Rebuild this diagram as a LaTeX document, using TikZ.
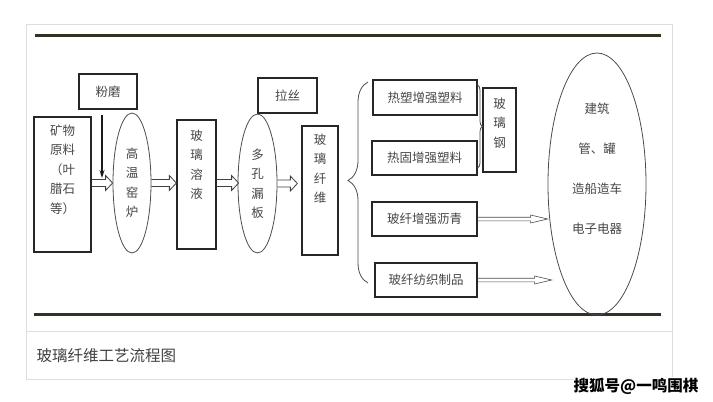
\documentclass[tikz,border=0pt]{standalone}
\usepackage{fontspec}
\setmainfont{Noto Sans CJK SC}
\usepackage{tikz}
\usetikzlibrary{arrows.meta,shapes.geometric,decorations.pathreplacing,calc}
\definecolor{rulecol}{RGB}{50,50,36}
\definecolor{ink}{RGB}{70,70,70}
\tikzstyle{stage}=[rectangle, draw=black!85, line width=1.3pt, inner sep=0pt, font=\fontsize{12.5}{19.5}\selectfont, text=ink]
\tikzstyle{ring}=[ellipse, draw=black!70, line width=0.8pt, inner sep=0pt, align=center, font=\fontsize{12.5}{19.5}\selectfont, text=ink]
\tikzstyle{vtext}=[anchor=north, inner sep=0pt, align=center, text=ink, font=\fontsize{12.5}{19.5}\selectfont]
\tikzstyle{fat}=[draw=black!75, line width=0.8pt, line join=miter,
    to path={let \p1=(\tikztostart), \p2=(\tikztotarget) in
      (\x1,\y1+3.5pt) -- (\x2-7pt,\y1+3.5pt) -- (\x2-7pt,\y1+7.5pt) -- (\x2,\y1)
      -- (\x2-7pt,\y1-7.5pt) -- (\x2-7pt,\y1-3.5pt) -- (\x1,\y1-3.5pt)}]
\tikzstyle{slim}=[draw=black!70, line width=0.6pt,
    to path={let \p1=(\tikztostart), \p2=(\tikztotarget) in
      (\x1,\y1+1.8pt) -- (\x2-17pt,\y1+1.8pt) -- (\x2-17pt,\y1+4pt) -- (\x2,\y1)
      -- (\x2-17pt,\y1-4pt) -- (\x2-17pt,\y1-1.8pt) -- (\x1,\y1-1.8pt)}]
\newcommand{\stagebox}{\node[stage]}
\newcommand{\ringnode}{\node[ring]}

\begin{document}
\begin{tikzpicture}[x=1pt, y=-1pt]
\useasboundingbox (0,0) rectangle (713,402);
% frame and rules
\draw[black!13, line width=0.8pt] (26,24) rectangle (672,379);
\draw[black!13, line width=0.8pt] (26,331) -- (672,331);
\draw[rulecol, line width=3pt] (35,35) -- (661,35);
\draw[rulecol, line width=3pt] (34,314) -- (661,314);

\stagebox (mill) at (108,91.5) [minimum width=58pt, minimum height=35pt] {粉磨};
\stagebox (ore) at (62.5,184.5) [minimum width=57pt, minimum height=135pt,
    label={[vtext, yshift=-8pt]north:矿物\\原料\\（叶\\腊石\\等）}] {};
\ringnode (kiln) at (132,183) [minimum width=38pt, minimum height=140pt] {高\\温\\窑\\炉};
\stagebox (melt) at (196.5,184.5) [minimum width=39pt, minimum height=129pt,
    label={[vtext, yshift=-10pt]north:玻\\璃\\溶\\液}] {};
\stagebox (drawing) at (287.5,95.5) [minimum width=59pt, minimum height=35pt] {拉丝};
\ringnode (bushing) at (257.5,183.5) [minimum width=39pt, minimum height=139pt] {多\\孔\\漏\\板};
\stagebox (fiber) at (320,190.5) [minimum width=36pt, minimum height=129pt,
    label={[vtext, yshift=-8pt]north:玻\\璃\\纤\\维}] {};
\stagebox (thermo) at (425,97.5) [minimum width=104pt, minimum height=35pt] {热塑增强塑料};
\stagebox (thermoset) at (424.5,158) [minimum width=105pt, minimum height=34pt] {热固增强塑料};
\stagebox (frp) at (499.5,130) [minimum width=33pt, minimum height=84pt,
    label={[vtext, yshift=-10pt]north:玻\\璃\\钢}] {};
\stagebox (asphalt) at (424.5,219) [minimum width=105pt, minimum height=34pt] {玻纤增强沥青};
\stagebox (textile) at (426,280) [minimum width=102pt, minimum height=34pt] {玻纤纺织制品};
\ringnode (uses) at (597,184) [minimum width=98pt, minimum height=262pt,
    label={[vtext, yshift=-50pt, font=\fontsize{12.5}{40}\selectfont]north:建筑\\管、罐\\造船造车\\电子电器}] {};

\coordinate (feed) at (102,178);
\draw[black!90, line width=1.2pt, shorten <=5pt, -{Stealth[length=8pt,width=5pt]}] (mill.south -| feed) -- (feed);

\draw[fat] (ore.east |- kiln) to (kiln.west);
\draw[fat] (kiln.east) to (kiln.east -| melt.west);
\draw[fat] (melt.east |- kiln) to ([xshift=1pt]kiln -| bushing.west);
\draw[fat] (bushing.east) to ([xshift=-4pt]bushing.east -| fiber.west);
\draw[slim] (asphalt.east) to (asphalt.east -| uses.west);
\draw[slim] (textile.east) to ([xshift=-12pt]textile.east -| uses.251);

% braces
\draw[black!70, line width=0.8pt, decorate, decoration={brace, amplitude=20pt, aspect=0.51}]
    (368,283) -- (368,82);
\draw[black!70, line width=0.8pt, decorate, decoration={brace, amplitude=5pt}]
    (477.5,85) -- (477.5,168);

\node[anchor=west, text=black!75, font=\fontsize{15.5}{18}\selectfont] (caption) at (33,356) {玻璃纤维工艺流程图};
\node[fill=white, inner sep=1pt, font=\fontsize{15.5}{18}\selectfont\bfseries] (mark) at (636,386) {搜狐号@一鸣围棋};
\end{tikzpicture}
\end{document}
